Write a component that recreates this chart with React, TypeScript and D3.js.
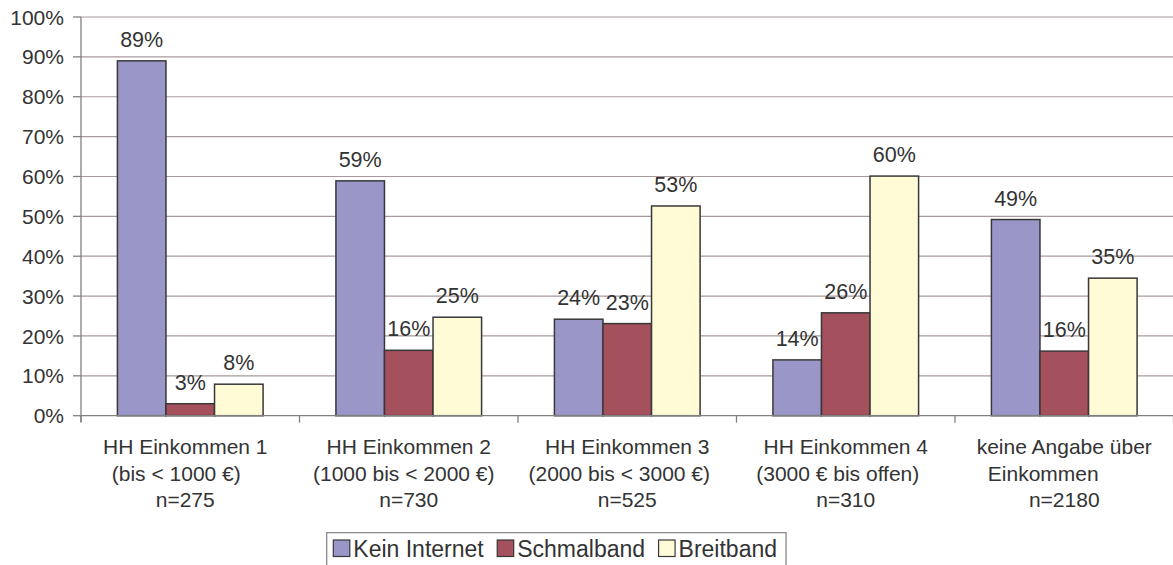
import React from "react";
import * as d3 from "d3";

// ---- data ----
const categoryLine1 = ["HH Einkommen 1", "HH Einkommen 2", "HH Einkommen 3", "HH Einkommen 4", "keine Angabe über"];
const categoryLine2 = ["(bis < 1000 €)", "(1000 bis < 2000 €)", "(2000 bis < 3000 €)", "(3000 € bis offen)", "Einkommen"];
const sampleSizes = ["n=275", "n=730", "n=525", "n=310", "n=2180"];
const seriesNames = ["Kein Internet", "Schmalband", "Breitband"];
const keinInternet = [89, 58.9, 24.2, 14.0, 49.2];
const schmalband = [3.0, 16.4, 23.1, 25.8, 16.2];
const breitband = [7.9, 24.7, 52.6, 60.1, 34.5];
const yTicks = [0, 10, 20, 30, 40, 50, 60, 70, 80, 90, 100];

// ---- layout ----
const W = 1173;
const H = 565;
const plotLeft = 81;
const plotRight = 81 + 5 * 218.5;
const plotTop = 17;
const plotBottom = 415.7;
const colors = ["#9b96c8", "#a4505d", "#fffbd6"];
const textColor = "#333333";
const font = "'Liberation Sans', Arial, Helvetica, sans-serif";
const line1Dx = [-5, 0, 0, 0, 0];
const line2Dx = [-14, -5, -8, -8, -21];
const line3Dx = [-5, 0, 0, 0, 0];

function measure(text: string, size: number): number {
  const c = document.createElement("canvas");
  const ctx = c.getContext("2d");
  if (!ctx) return text.length * size * 0.55;
  ctx.font = `${size}px 'Liberation Sans', Arial, sans-serif`;
  return ctx.measureText(text).width;
}

export default function App() {
  const series = [keinInternet, schmalband, breitband];
  const x0 = d3.scaleBand<number>().domain(d3.range(categoryLine1.length)).range([plotLeft, plotRight]).paddingInner(0).paddingOuter(0);
  const bw = x0.bandwidth() / 4.5;
  const y = d3.scaleLinear().domain([0, 100]).range([plotBottom, plotTop]);

  const legendSize = 23;
  const legendItems: { sx: number; name: string; color: string }[] = [];
  let sx = 333.3;
  seriesNames.forEach((n, i) => {
    legendItems.push({ sx, name: n, color: colors[i] });
    sx = sx + 20 + measure(n, legendSize) + 13.5;
  });
  const legendRight = sx - 13.5 + 9;

  return (
    <svg width={W} height={H} style={{ position: "absolute", left: 0, top: 0, background: "#fff" }} fontFamily={font}>
      {/* gridlines */}
      {yTicks.filter((t) => t > 0).map((t) => (
        <line key={"g" + t} x1={plotLeft} x2={plotRight} y1={y(t)} y2={y(t)} stroke="#a89a9a" strokeWidth={1.2} />
      ))}
      {/* y axis */}
      <line x1={plotLeft} x2={plotLeft} y1={plotTop} y2={plotBottom + 6} stroke="#808080" strokeWidth={1.3} />
      {yTicks.map((t) => (
        <g key={"t" + t}>
          <line x1={plotLeft - 8} x2={plotLeft} y1={y(t)} y2={y(t)} stroke="#808080" strokeWidth={1.3} />
          <text x={64} y={y(t)} dy="0.36em" textAnchor="end" fontSize={21} fill={textColor}>{t}%</text>
        </g>
      ))}
      {/* bars */}
      {categoryLine1.map((_, ci) => {
        const start = (x0(ci) as number) + bw * 0.75;
        return (
          <g key={"c" + ci}>
            {series.map((s, si) => (
              <rect key={si} x={start + si * bw} y={y(s[ci])} width={bw} height={plotBottom - y(s[ci])} fill={colors[si]} stroke="#383838" strokeWidth={1.5} />
            ))}
            {series.map((s, si) => (
              <text key={"l" + si} x={start + si * bw + bw / 2} y={y(s[ci]) - 14} textAnchor="middle" fontSize={21.5} fill={textColor}>{Math.round(s[ci])}%</text>
            ))}
          </g>
        );
      })}
      {/* x axis */}
      <line x1={plotLeft} x2={plotRight} y1={plotBottom} y2={plotBottom} stroke="#808080" strokeWidth={1.3} />
      {d3.range(categoryLine1.length + 1).map((i) => {
        const xx = plotLeft + i * x0.step();
        return <line key={"xt" + i} x1={xx} x2={xx} y1={plotBottom} y2={plotBottom + 7} stroke="#808080" strokeWidth={1.3} />;
      })}
      {categoryLine1.map((l1, ci) => {
        const cx = (x0(ci) as number) + x0.bandwidth() / 2;
        return (
          <g key={"lab" + ci} fontSize={21} fill={textColor} textAnchor="middle">
            <text x={cx + line1Dx[ci]} y={454}>{l1}</text>
            <text x={cx + line2Dx[ci]} y={480.5}>{categoryLine2[ci]}</text>
            <text x={cx + line3Dx[ci]} y={507}>{sampleSizes[ci]}</text>
          </g>
        );
      })}
      {/* legend */}
      <rect x={326.7} y={532.7} width={legendRight - 326.7} height={40} fill="#fff" stroke="#808080" strokeWidth={1.2} />
      {legendItems.map((it) => (
        <g key={it.name}>
          <rect x={it.sx} y={540} width={16.5} height={16.5} fill={it.color} stroke="#383838" strokeWidth={1.2} />
          <text x={it.sx + 20} y={557} fontSize={legendSize} fill={textColor}>{it.name}</text>
        </g>
      ))}
    </svg>
  );
}
